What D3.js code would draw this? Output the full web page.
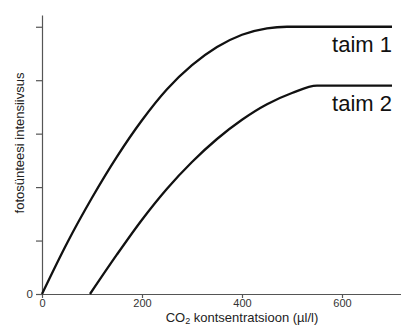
<!DOCTYPE html>
<html>
<head>
<meta charset="utf-8">
<script src="https://cdn.jsdelivr.net/npm/d3@7"></script>
<style>
  body { margin: 0; background: #fff; }
  text { font-family: "Liberation Sans", Arial, sans-serif; }
</style>
</head>
<body>
<div id="chart"></div>
<script>
// CO2 concentration (µl/l) and photosynthesis intensity (arbitrary units)
const taim1X = [0, 50, 100, 150, 200, 250, 300, 350, 400, 450, 490, 700];
const taim1Y = [0, 0.95, 1.8, 2.57, 3.25, 3.83, 4.28, 4.62, 4.85, 4.97, 5, 5];
const taim2X = [96, 150, 200, 250, 300, 350, 400, 450, 500, 550, 700];
const taim2Y = [0, 0.74, 1.39, 1.97, 2.47, 2.9, 3.26, 3.55, 3.76, 3.9, 3.9];
const seriesNames = ["taim 1", "taim 2"];
const xTicks = [0, 200, 400, 600];
const yTicks = [0, 1, 2, 3, 4, 5];

const width = 401, height = 327;

const svg = d3.select("#chart")
    .append("svg")
    .attr("width", width)
    .attr("height", height);

const x = d3.scaleLinear().domain([0, 718]).range([42, 401]);
const y = d3.scaleLinear().domain([0, 5.22]).range([294, 15]);

const axisColor = "#555";

// x axis
const xAxis = svg.append("g")
    .attr("transform", `translate(0,${y(0)})`)
    .call(d3.axisBottom(x).tickValues(xTicks).tickSize(4).tickPadding(1).tickSizeOuter(0));
xAxis.select(".domain").attr("stroke", axisColor).attr("stroke-width", 1.2);
xAxis.selectAll(".tick line").attr("stroke", axisColor).attr("stroke-width", 1.2);
xAxis.selectAll("text").attr("font-size", 11).attr("fill", "#333")
    .style("font-family", "Liberation Sans, Arial, sans-serif");

// y axis, only the 0 is labelled
const yAxis = svg.append("g")
    .attr("transform", `translate(${x(0)},0)`)
    .call(d3.axisLeft(y).tickValues(yTicks).tickSize(6).tickPadding(3).tickSizeOuter(0)
        .tickFormat(d => d === 0 ? "0" : ""));
yAxis.select(".domain").attr("stroke", axisColor).attr("stroke-width", 1.2);
yAxis.selectAll(".tick line").attr("stroke", axisColor).attr("stroke-width", 1.2);
yAxis.selectAll("text").attr("font-size", 11.5).attr("fill", "#333")
    .style("font-family", "Liberation Sans, Arial, sans-serif");

// axis titles
const xTitle = svg.append("text")
    .attr("x", 242)
    .attr("y", 322)
    .attr("text-anchor", "middle")
    .attr("font-size", 13)
    .attr("fill", "#222");
xTitle.append("tspan").text("CO");
xTitle.append("tspan").attr("font-size", 9).attr("dy", 2).text("2");
xTitle.append("tspan").attr("dy", -2).text(" kontsentratsioon (µl/l)");

svg.append("text")
    .attr("transform", "translate(24,143) rotate(-90)")
    .attr("text-anchor", "middle")
    .attr("font-size", 13)
    .attr("fill", "#222")
    .text("fotosünteesi intensiivsus");

// curves
const line = d3.line()
    .x(d => x(d[0]))
    .y(d => y(d[1]))
    .curve(d3.curveMonotoneX);

const series = [
    d3.zip(taim1X, taim1Y),
    d3.zip(taim2X, taim2Y)
];

svg.append("g")
    .selectAll("path")
    .data(series)
    .join("path")
    .attr("d", line)
    .attr("fill", "none")
    .attr("stroke", "#111")
    .attr("stroke-width", 2.3);

// series labels under the plateau ends
svg.append("g")
    .selectAll("text")
    .data(series)
    .join("text")
    .attr("x", d => x(d[d.length - 1][0]))
    .attr("y", d => y(d[d.length - 1][1]) + 25)
    .attr("text-anchor", "end")
    .attr("font-size", 22)
    .attr("fill", "#111")
    .text((d, i) => seriesNames[i]);
</script>
</body>
</html>
